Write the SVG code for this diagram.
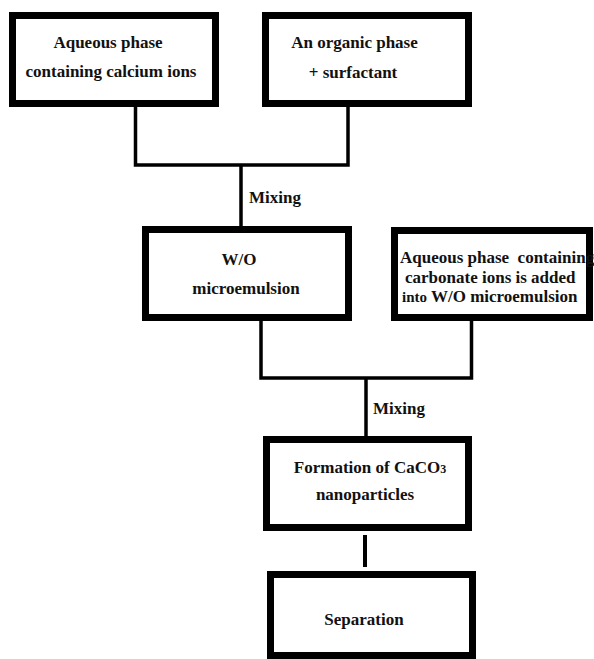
<svg xmlns="http://www.w3.org/2000/svg" width="594" height="659" viewBox="0 0 594 659" font-family="'Liberation Serif', 'Times New Roman', serif" font-weight="bold" font-size="17">
<style>
.box{fill:#fff;stroke:#000;stroke-width:7}
.ln{fill:none;stroke:#000;stroke-width:3.5}
.t{font-family:'Liberation Serif','Times New Roman',serif;font-weight:bold;font-size:17px;fill:#111}
.c{text-anchor:middle}
</style>
<rect width="594" height="659" fill="#fff"/>
<g id="connectors">
<polyline class="ln" points="135.5,107 135.5,165 348,165 348,107"/>
<line class="ln" x1="241" y1="165" x2="241" y2="227"/>
<polyline class="ln" points="261,321 261,378 471.5,378 471.5,321"/>
<line class="ln" x1="366" y1="378" x2="366" y2="437"/>
<line class="ln" x1="365" y1="535" x2="365" y2="567" style="stroke-width:4"/>
<text class="t" x="249" y="203">Mixing</text>
<text class="t" x="373" y="414">Mixing</text>
</g>
<g id="aqueous-calcium">
<rect class="box" x="12.5" y="15.5" width="203" height="88"/>
<text class="t c" x="108" y="48">Aqueous phase</text>
<text class="t c" x="111" y="77">containing calcium ions</text>
</g>
<g id="organic-surfactant">
<rect class="box" x="265.5" y="15.5" width="203" height="88"/>
<text class="t c" x="354.5" y="48">An organic phase</text>
<text class="t c" x="353" y="78">+ surfactant</text>
</g>
<g id="wo-microemulsion">
<rect class="box" x="145.5" y="229.5" width="203" height="88"/>
<text class="t c" x="239" y="265">W/O</text>
<text class="t c" x="246" y="294">microemulsion</text>
</g>
<g id="aqueous-carbonate">
<rect class="box" x="394.5" y="230.5" width="195" height="87"/>
<text class="t" x="400" y="263" xml:space="preserve">Aqueous phase  containing</text>
<text class="t" x="405" y="283">carbonate ions is added</text>
<text class="t" x="402" y="302"><tspan font-size="15">into</tspan> W/O microemulsion</text>
</g>
<g id="formation">
<rect class="box" x="266.5" y="439.5" width="202" height="88"/>
<text class="t c" x="370" y="473">Formation of CaCO<tspan font-size="12">3</tspan></text>
<text class="t c" x="365" y="500">nanoparticles</text>
</g>
<g id="separation">
<rect class="box" x="270.5" y="574.5" width="202" height="81"/>
<text class="t c" x="364" y="625">Separation</text>
</g>
</svg>
